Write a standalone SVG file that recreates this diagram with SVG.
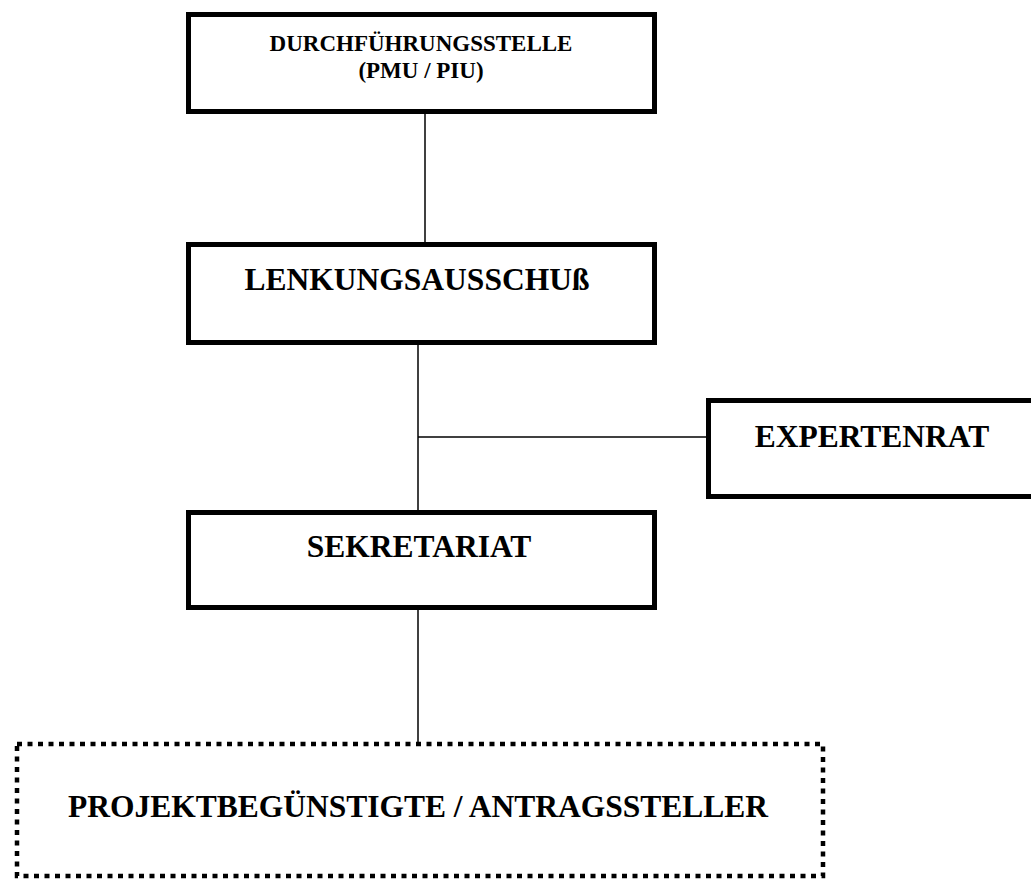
<svg xmlns="http://www.w3.org/2000/svg" width="1031" height="880" viewBox="0 0 1031 880">
<style>
.box{fill:#fff;stroke:#000;stroke-width:5}
.dash{fill:#fff;stroke:#000;stroke-width:4.5;stroke-dasharray:5 5.5}
.conn{stroke:#000;stroke-width:1.5;fill:none}
text{font-family:"Liberation Serif","Times New Roman",serif;font-weight:bold;fill:#000;text-anchor:middle}
.s{font-size:23px}
.l{font-size:31.5px}
</style>
<rect width="1031" height="880" fill="#fff"/>
<g id="connectors">
<line class="conn" x1="425" y1="114" x2="425" y2="243"/>
<line class="conn" x1="418" y1="344" x2="418" y2="512"/>
<line class="conn" x1="418" y1="437" x2="707" y2="437"/>
<line class="conn" x1="418" y1="609" x2="418" y2="744"/>
</g>
<g id="durchfuehrungsstelle">
<rect class="box" x="188.5" y="14.5" width="466" height="97"/>
<text class="s" x="421" y="51">DURCHFÜHRUNGSSTELLE</text>
<text class="s" x="421" y="78">(PMU / PIU)</text>
</g>
<g id="lenkungsausschuss">
<rect class="box" x="188.5" y="244.5" width="466" height="98"/>
<text class="l" x="417" y="290">LENKUNGSAUSSCHUß</text>
</g>
<g id="expertenrat">
<rect class="box" x="708.5" y="400.5" width="340" height="96"/>
<text class="l" x="872" y="447">EXPERTENRAT</text>
</g>
<g id="sekretariat">
<rect class="box" x="188.5" y="512.5" width="466" height="95"/>
<text class="l" x="419" y="557">SEKRETARIAT</text>
</g>
<g id="projektbeguenstigte">
<rect class="dash" x="17" y="744" width="806" height="132"/>
<text class="l" x="418" y="817">PROJEKTBEGÜNSTIGTE / ANTRAGSSTELLER</text>
</g>
</svg>
